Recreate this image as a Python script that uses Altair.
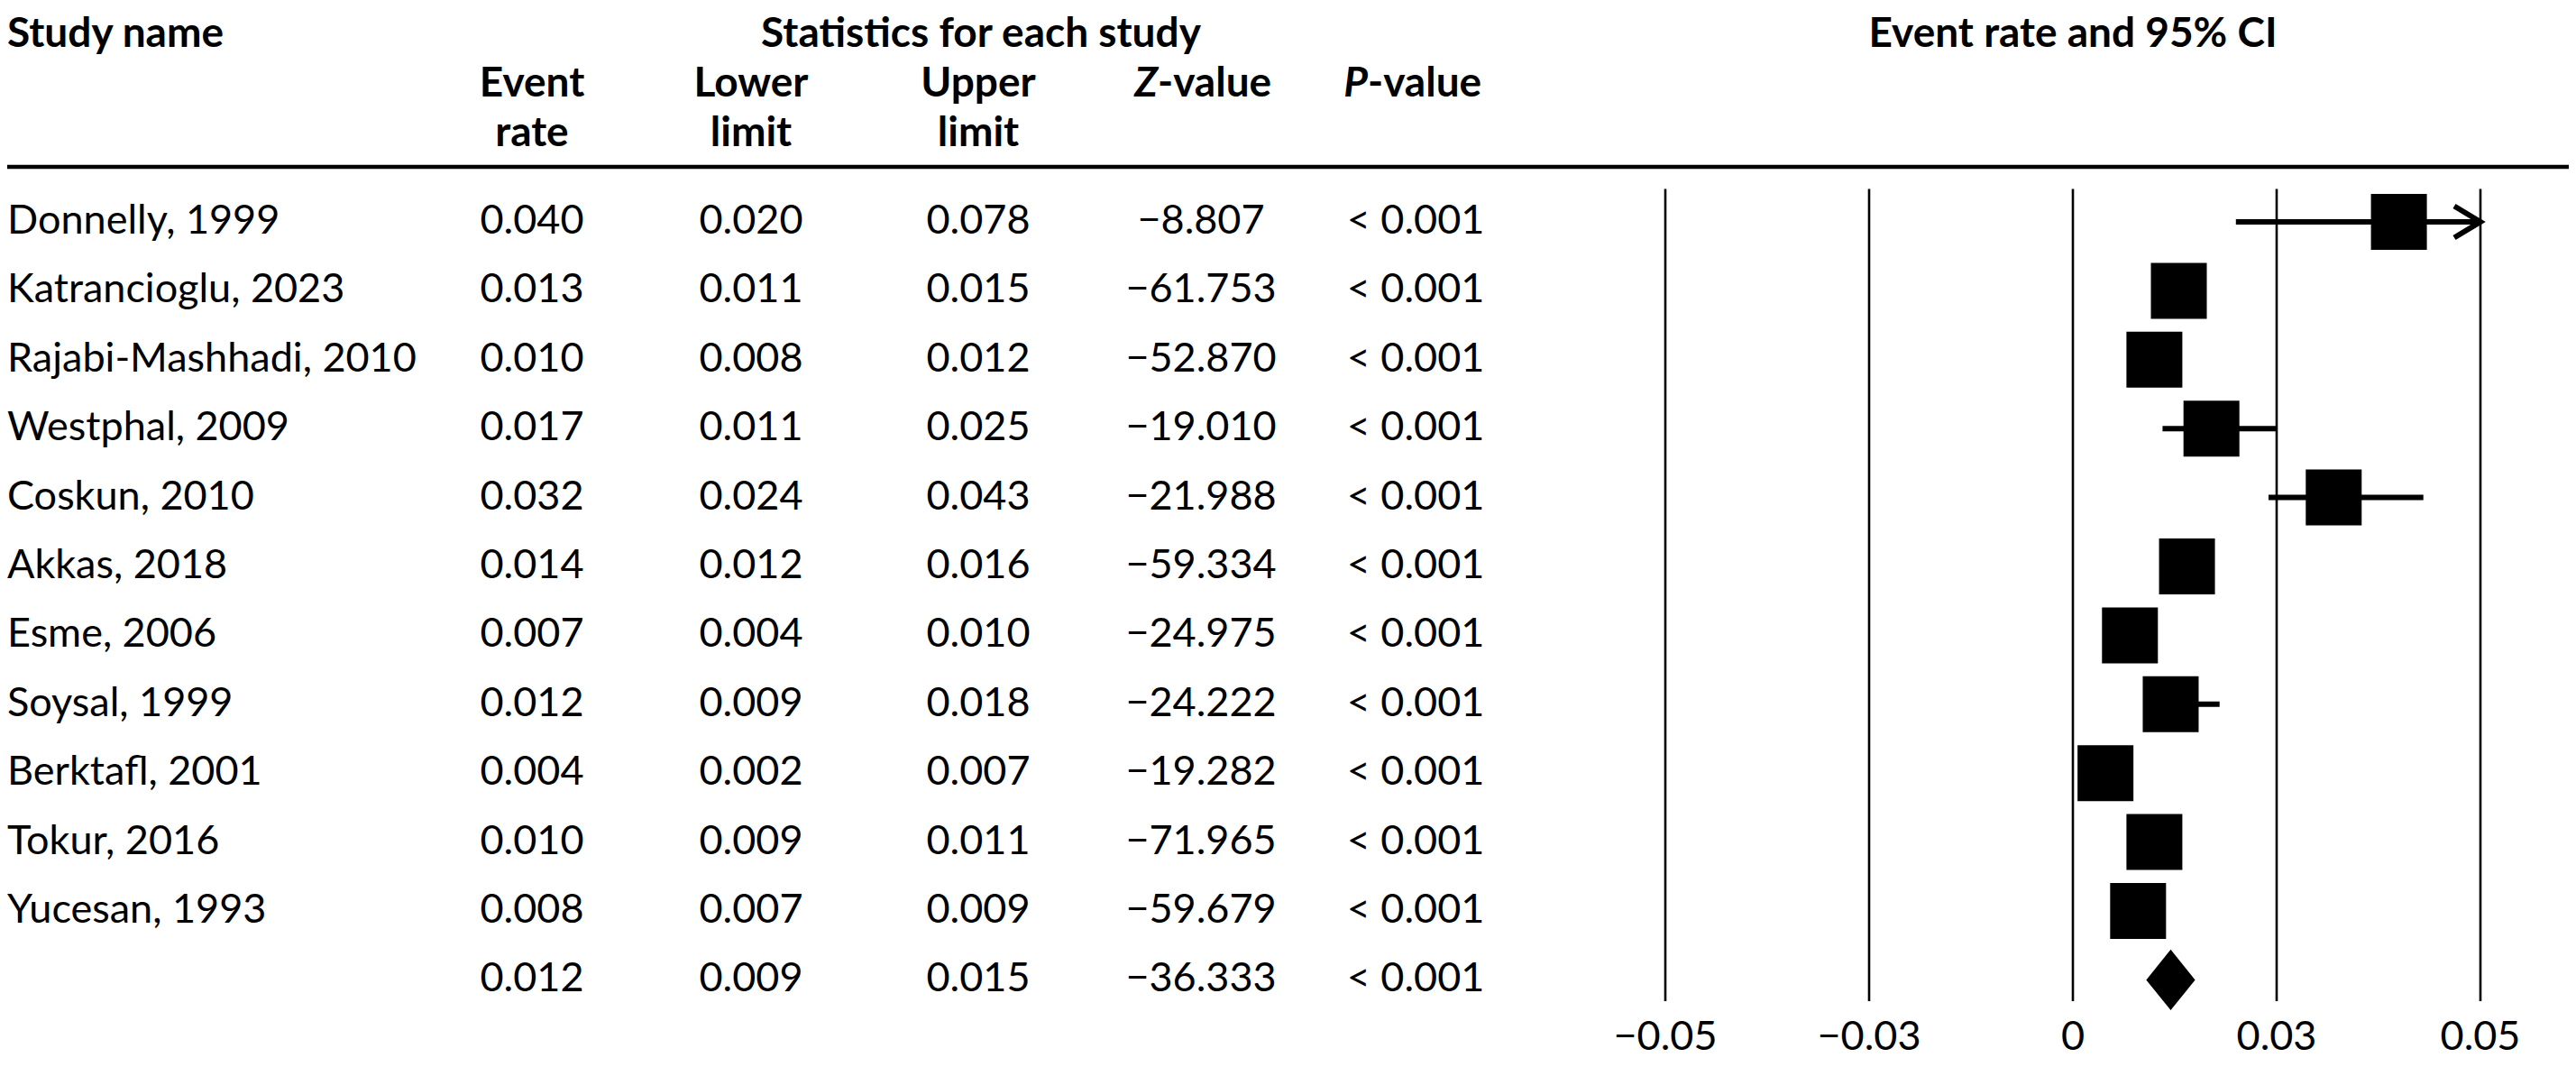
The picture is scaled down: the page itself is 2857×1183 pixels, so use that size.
import altair as alt
import pandas as pd

# ---------------- data ----------------
studies = ["Donnelly, 1999", "Katrancioglu, 2023", "Rajabi-Mashhadi, 2010", "Westphal, 2009",
           "Coskun, 2010", "Akkas, 2018", "Esme, 2006", "Soysal, 1999", "Berktafl, 2001",
           "Tokur, 2016", "Yucesan, 1993", ""]
event_rate = [0.040, 0.013, 0.010, 0.017, 0.032, 0.014, 0.007, 0.012, 0.004, 0.010, 0.008, 0.012]
lower_limit = [0.020, 0.011, 0.008, 0.011, 0.024, 0.012, 0.004, 0.009, 0.002, 0.009, 0.007, 0.009]
upper_limit = [0.078, 0.015, 0.012, 0.025, 0.043, 0.016, 0.010, 0.018, 0.007, 0.011, 0.009, 0.015]
z_value = [-8.807, -61.753, -52.870, -19.010, -21.988, -59.334, -24.975, -24.222, -19.282,
           -71.965, -59.679, -36.333]
p_value = ["< 0.001"] * 12
is_summary = [False] * 11 + [True]

tick_values = [-0.05, -0.025, 0.0, 0.025, 0.05]
tick_labels = ["\u22120.05", "\u22120.03", "0", "0.03", "0.05"]

# ---------------- layout ----------------
W, H = 2841, 1167
FONT = "Lato"
FS = 45
HFS = 46
ROW0, ROW_STEP = 238, 76.4
X_DOMAIN = [-0.05, 0.05]
X_RANGE = [1839, 2743]
COL_X = {"er": 582, "lo": 825, "hi": 1077, "z": 1324, "p": 1562}
HEAD_Y = [44, 99, 154]
RULE_Y = 177
GRID_PAD_TOP = 0.477
GRID_PAD_BOTTOM = 0.31
DIAMOND_H = 0.44
TEXT_DY = 13
TICK_LABEL_Y = 1156

n = len(studies)
df = pd.DataFrame({
    "row": list(range(n)),
    "name": studies,
    "er": event_rate,
    "lo": lower_limit,
    "hi": upper_limit,
    "z": z_value,
    "p": p_value,
    "summary": is_summary,
})
studies_df = df[~df["summary"]].copy()
summary_df = df[df["summary"]].copy()

xscale = alt.Scale(domain=X_DOMAIN, range=X_RANGE, clamp=True, nice=False, zero=False)
yscale = alt.Scale(domain=[0, n - 1], range=[ROW0, ROW0 + ROW_STEP * (n - 1)], nice=False, zero=False)

Y = alt.Y("row:Q", scale=yscale, axis=None)

layers = []

# vertical reference lines
grid_df = pd.DataFrame({"v": tick_values, "y0": -GRID_PAD_TOP, "y1": (n - 1) + GRID_PAD_BOTTOM})
layers.append(
    alt.Chart(grid_df).mark_rule(color="black", strokeWidth=2.6).encode(
        x=alt.X("v:Q", scale=xscale, axis=None),
        y=alt.Y("y0:Q", scale=yscale, axis=None),
        y2="y1:Q",
    )
)

# tick labels
tick_df = pd.DataFrame({"v": tick_values, "label": tick_labels})
layers.append(
    alt.Chart(tick_df).mark_text(font=FONT, fontSize=FS, color="black", align="center",
                                 baseline="alphabetic").encode(
        x=alt.X("v:Q", scale=xscale, axis=None),
        y=alt.value(TICK_LABEL_Y),
        text="label:N",
    )
)

# confidence interval lines
layers.append(
    alt.Chart(studies_df).mark_rule(color="black", strokeWidth=6).encode(
        x=alt.X("lo:Q", scale=xscale, axis=None),
        x2="hi:Q",
        y=Y,
    )
)

# arrows for intervals exceeding the axis
arrow_df = studies_df[studies_df["hi"] > X_DOMAIN[1]].copy()
arrow_df["ax"] = X_DOMAIN[1]
layers.append(
    alt.Chart(arrow_df).mark_point(shape="M-1.657,-1L0,0L-1.657,1", filled=False, size=1225,
                                   strokeWidth=6, color="black", opacity=1).encode(
        x=alt.X("ax:Q", scale=xscale, axis=None),
        y=Y,
    )
)

# squares
layers.append(
    alt.Chart(studies_df).mark_square(size=3844, color="black", opacity=1).encode(
        x=alt.X("er:Q", scale=xscale, axis=None),
        y=Y,
    )
)

# summary diamond
dia_rows = []
for _, r in summary_df.iterrows():
    dia_rows += [
        {"x": r["lo"], "ya": r["row"], "yb": r["row"]},
        {"x": r["er"], "ya": r["row"] - DIAMOND_H, "yb": r["row"] + DIAMOND_H},
        {"x": r["hi"], "ya": r["row"], "yb": r["row"]},
    ]
dia_df = pd.DataFrame(dia_rows)
layers.append(
    alt.Chart(dia_df).mark_area(color="black", opacity=1, interpolate="linear").encode(
        x=alt.X("x:Q", scale=xscale, axis=None),
        y=alt.Y("ya:Q", scale=yscale, axis=None),
        y2="yb:Q",
    )
)

# table text
def col_text(field, x, align="center", fmt=None):
    txt = alt.Text(f"{field}:Q", format=fmt) if fmt else alt.Text(f"{field}:N")
    return alt.Chart(df).mark_text(font=FONT, fontSize=FS, color="black", align=align,
                                   baseline="alphabetic", dy=TEXT_DY).encode(
        x=alt.value(x), y=Y, text=txt)

layers.append(col_text("name", 0, align="left"))
layers.append(col_text("er", COL_X["er"], fmt=".3f"))
layers.append(col_text("lo", COL_X["lo"], fmt=".3f"))
layers.append(col_text("hi", COL_X["hi"], fmt=".3f"))
layers.append(col_text("z", COL_X["z"], fmt=".3f"))
layers.append(col_text("p", COL_X["p"]))

# headers
def head(t, x, y, align="center", style="normal"):
    return alt.Chart(pd.DataFrame({"t": [t]})).mark_text(
        font=FONT, fontSize=HFS, fontWeight="bold", fontStyle=style, color="black",
        align=align, baseline="alphabetic").encode(x=alt.value(x), y=alt.value(y), text="t:N")

layers += [
    head("Study name", 0, HEAD_Y[0], align="left"),
    head("Statistics for each study", 1080, HEAD_Y[0]),
    head("Event rate and 95% CI", 2291, HEAD_Y[0]),
    head("Event", COL_X["er"], HEAD_Y[1]),
    head("rate", COL_X["er"], HEAD_Y[2]),
    head("Lower", COL_X["lo"], HEAD_Y[1]),
    head("limit", COL_X["lo"], HEAD_Y[2]),
    head("Upper", COL_X["hi"], HEAD_Y[1]),
    head("limit", COL_X["hi"], HEAD_Y[2]),
    head("Z", 1276, HEAD_Y[1], align="right", style="italic"),
    head("-value", 1276, HEAD_Y[1], align="left"),
    head("P", 1509, HEAD_Y[1], align="right", style="italic"),
    head("-value", 1509, HEAD_Y[1], align="left"),
]

# horizontal rule under headers
layers.append(
    alt.Chart(pd.DataFrame({"a": [0]})).mark_rule(color="black", strokeWidth=4.5).encode(
        x=alt.value(0), x2=alt.value(W), y=alt.value(RULE_Y))
)

chart = alt.layer(*layers).properties(
    width=W, height=H, padding=0, autosize="none"
).configure_view(stroke=None)

chart.save("out.html", embed_options={"renderer": "svg", "actions": False})
